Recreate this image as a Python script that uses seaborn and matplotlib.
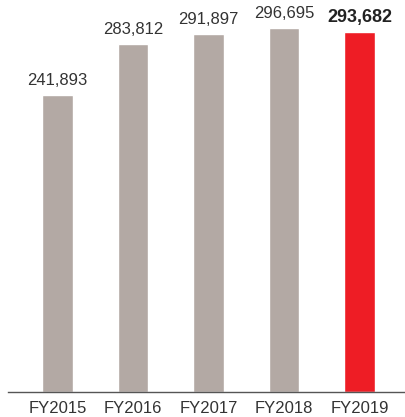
import matplotlib
matplotlib.use("Agg")
import matplotlib.pyplot as plt
import seaborn as sns

years = ["FY2015", "FY2016", "FY2017", "FY2018", "FY2019"]
values = [241893, 283812, 291897, 296695, 293682]
labels = ["241,893", "283,812", "291,897", "296,695", "293,682"]
colors = ["#b3a9a4", "#b3a9a4", "#b3a9a4", "#b3a9a4", "#ee1d25"]

sns.set_style("white")
plt.rcParams["font.family"] = ["Liberation Sans", "DejaVu Sans"]

fig = plt.figure(figsize=(4.06, 4.17), dpi=100)
ax = fig.add_axes([0.0197, 25 / 417, 1 - 0.0197, 1 - 25 / 417])

sns.barplot(x=years, y=values, hue=years, palette=colors, legend=False,
            width=0.41, saturation=1, ax=ax)

ax.set_xlim(-0.656, 4.616)
ax.set_ylim(0, 319500)

for i, (v, lab) in enumerate(zip(values, labels)):
    last = i == len(values) - 1
    ax.annotate(lab, xy=(i, v), xytext=(0, 7.2), textcoords="offset points",
                ha="center", va="baseline",
                fontsize=13 if last else 12,
                fontweight="bold" if last else "normal",
                color="#222222" if last else "#333333")

for s in ["top", "left", "right"]:
    ax.spines[s].set_visible(False)
ax.spines["bottom"].set_color("#555555")
ax.spines["bottom"].set_linewidth(1.0)
ax.set_yticks([])
ax.tick_params(axis="x", length=0, pad=6.5, labelsize=12, labelcolor="#333333")
ax.set_xlabel("")
ax.set_ylabel("")

fig.savefig("out.png", dpi=100)
